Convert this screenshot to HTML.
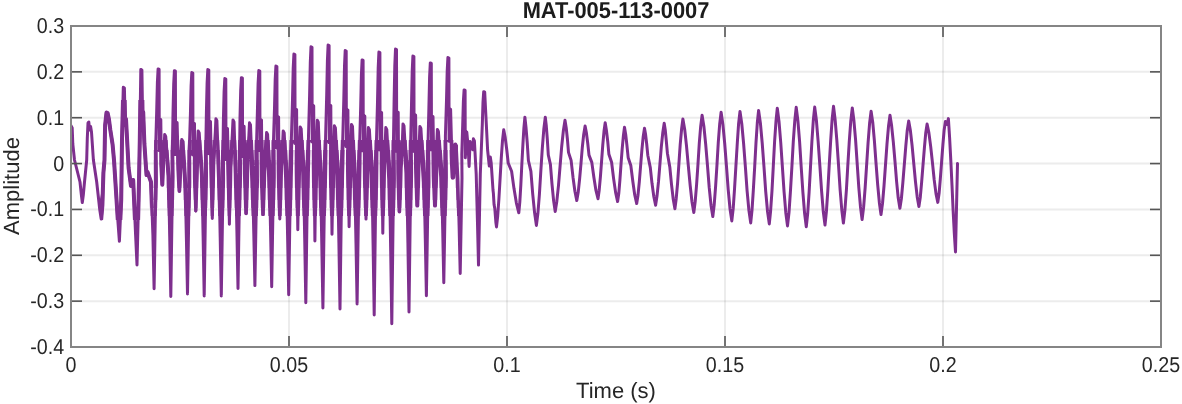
<!DOCTYPE html>
<html><head><meta charset="utf-8"><style>
html,body{margin:0;padding:0;background:#fff;width:1182px;height:404px;overflow:hidden}
svg{display:block}
text{font-family:"Liberation Sans",Arial,sans-serif;text-rendering:geometricPrecision}
</style></head><body>
<svg width="1182" height="404" viewBox="0 0 1182 404">
<rect x="0" y="0" width="1182" height="404" fill="#fff"/>
<g><line x1="289.00" y1="26.0" x2="289.00" y2="347.0" stroke="#262626" stroke-opacity="0.085" stroke-width="2"/>
<line x1="507.00" y1="26.0" x2="507.00" y2="347.0" stroke="#262626" stroke-opacity="0.085" stroke-width="2"/>
<line x1="725.00" y1="26.0" x2="725.00" y2="347.0" stroke="#262626" stroke-opacity="0.085" stroke-width="2"/>
<line x1="943.00" y1="26.0" x2="943.00" y2="347.0" stroke="#262626" stroke-opacity="0.085" stroke-width="2"/>
<line x1="71.0" y1="71.86" x2="1161.0" y2="71.86" stroke="#262626" stroke-opacity="0.085" stroke-width="2"/>
<line x1="71.0" y1="117.71" x2="1161.0" y2="117.71" stroke="#262626" stroke-opacity="0.085" stroke-width="2"/>
<line x1="71.0" y1="163.57" x2="1161.0" y2="163.57" stroke="#262626" stroke-opacity="0.085" stroke-width="2"/>
<line x1="71.0" y1="209.43" x2="1161.0" y2="209.43" stroke="#262626" stroke-opacity="0.085" stroke-width="2"/>
<line x1="71.0" y1="255.29" x2="1161.0" y2="255.29" stroke="#262626" stroke-opacity="0.085" stroke-width="2"/>
<line x1="71.0" y1="301.14" x2="1161.0" y2="301.14" stroke="#262626" stroke-opacity="0.085" stroke-width="2"/></g>
<clipPath id="c"><rect x="71.0" y="26.0" width="1090.0" height="321.0"/></clipPath>
<g clip-path="url(#c)"><defs><path id="wv" d="M71.0,125.6 L72.2,128.0 L72.8,144.0 L74.5,160.0 L77.0,170.0 L80.0,182.0 L81.4,195.0 L82.3,202.5 L83.3,195.0 L84.5,182.0 L86.7,160.0 L87.3,138.0 L88.0,123.0 L88.8,122.0 L89.6,130.0 L90.6,126.5 L91.5,132.0 L93.4,160.0 L96.7,182.0 L99.8,210.0 L101.2,219.0 L102.4,205.0 L103.4,173.0 L104.5,160.0 L105.1,125.3 L106.5,112.5 L107.6,113.0 L108.9,119.0 L110.3,129.7 L112.6,144.6 L114.0,160.0 L115.7,186.7 L117.8,220.0 L119.4,241.3 L121.2,200.0 L122.0,140.0 L123.3,87.3 L124.4,88.0 L125.2,125.0 L126.0,119.0 L128.6,168.0 L131.0,186.0 L133.2,180.0 L135.6,235.0 L137.0,265.0 L138.6,200.0 L139.8,140.0 L140.8,69.4 L141.9,70.0 L142.6,116.0 L143.2,112.0 L144.4,144.0 L146.5,175.0 L147.5,172.0 L151.0,182.0 L152.9,235.0 L154.1,288.7 L155.9,181.0 L155.7,145.8 L156.7,110.7 L157.4,82.1 L158.1,68.9 L159.1,69.4 L159.3,150.2 L160.8,119.5 L161.3,164.7 L162.3,184.7 L163.3,159.7 L164.1,147.6 L164.7,134.4 L165.7,136.4 L168.5,176.0 L169.7,236.2 L170.8,296.5 L172.6,176.0 L172.4,149.7 L173.0,113.6 L173.7,84.2 L174.4,70.7 L175.4,71.2 L175.6,154.2 L177.1,122.6 L178.4,170.0 L179.4,191.1 L180.4,165.0 L181.2,152.9 L181.8,139.4 L182.8,141.4 L185.2,183.0 L186.4,238.4 L187.5,293.9 L189.3,183.0 L189.3,150.1 L190.4,114.6 L191.1,85.9 L191.8,72.6 L192.8,73.1 L193.0,154.5 L194.5,123.5 L194.9,177.0 L195.8,210.9 L196.8,172.0 L197.6,144.2 L198.2,130.9 L199.2,132.9 L201.9,175.0 L203.1,235.4 L204.2,295.9 L206.0,175.0 L205.8,148.8 L206.4,112.6 L207.1,83.2 L207.8,69.6 L208.8,70.1 L209.0,153.3 L210.5,121.6 L211.3,169.0 L212.3,218.4 L213.3,164.0 L215.3,132.3 L215.9,118.7 L216.9,120.7 L219.0,179.0 L220.2,237.4 L221.3,295.9 L223.1,179.0 L222.9,154.6 L223.4,119.8 L224.1,91.5 L224.8,78.5 L225.8,79.0 L226.0,158.9 L227.5,128.5 L228.4,173.0 L229.4,224.2 L230.4,168.0 L232.4,132.9 L233.0,119.9 L234.0,121.9 L235.7,173.0 L236.9,230.8 L238.0,288.5 L239.8,173.0 L239.6,151.5 L240.0,117.8 L240.7,90.3 L241.4,77.7 L242.4,78.2 L242.6,155.7 L244.1,126.2 L245.1,167.0 L246.1,213.4 L247.1,162.0 L248.9,135.4 L249.5,122.8 L250.5,124.8 L252.6,182.0 L253.8,233.8 L254.9,285.6 L256.7,182.0 L256.5,145.8 L257.4,111.4 L258.1,83.5 L258.8,70.6 L259.8,71.1 L260.0,150.1 L261.5,120.0 L262.0,176.0 L263.0,214.5 L264.0,171.0 L266.0,145.3 L266.6,132.4 L267.6,134.4 L269.4,177.0 L270.6,231.9 L271.7,286.8 L273.5,177.0 L273.4,143.3 L274.5,108.0 L275.2,79.3 L275.9,66.1 L276.9,66.6 L277.1,147.8 L278.6,116.9 L279.0,171.0 L279.8,218.9 L280.8,166.0 L282.6,144.1 L283.2,130.9 L284.2,132.9 L286.4,178.0 L287.6,236.3 L288.7,294.7 L290.5,178.0 L291.4,138.2 L292.5,99.7 L293.2,68.4 L293.9,54.0 L294.9,54.5 L295.1,143.1 L296.6,109.4 L297.0,172.0 L297.8,229.8 L298.8,167.0 L299.6,141.3 L300.2,126.9 L301.2,128.9 L303.5,174.0 L304.7,238.3 L305.8,302.7 L307.6,174.0 L308.5,136.4 L309.6,95.4 L310.3,62.2 L311.0,46.8 L312.0,47.3 L312.2,141.5 L313.7,105.7 L314.1,168.0 L314.9,240.9 L315.9,163.0 L316.7,135.6 L317.3,120.2 L318.3,122.2 L320.6,181.0 L321.8,244.5 L322.9,308.0 L324.7,181.0 L325.6,137.1 L326.7,95.0 L327.4,60.8 L328.1,45.0 L329.1,45.5 L329.3,142.3 L330.8,105.5 L331.2,175.0 L332.0,234.2 L333.0,170.0 L333.8,141.6 L334.4,125.8 L335.4,127.8 L337.7,176.0 L338.9,242.5 L340.0,309.1 L341.8,176.0 L342.7,141.0 L343.8,99.6 L344.5,66.0 L345.2,50.5 L346.2,51.0 L346.4,146.2 L347.9,110.0 L348.3,170.0 L349.1,226.8 L350.1,165.0 L350.9,139.9 L351.5,124.4 L352.5,126.4 L354.8,183.0 L356.0,243.4 L357.1,303.9 L358.9,183.0 L359.6,145.3 L360.7,106.3 L361.4,74.5 L362.1,59.9 L363.1,60.4 L363.3,150.2 L364.8,116.0 L365.2,177.0 L366.0,219.1 L367.0,172.0 L367.8,142.2 L368.4,127.6 L369.4,129.6 L371.9,175.0 L373.1,245.0 L374.2,315.0 L376.0,175.0 L376.4,144.1 L377.5,102.0 L378.2,67.8 L378.9,52.0 L379.9,52.5 L380.1,149.3 L381.6,112.5 L382.0,169.0 L382.8,233.2 L383.8,164.0 L385.2,143.4 L385.8,127.6 L386.8,129.6 L389.5,179.0 L390.7,251.3 L391.8,323.7 L393.6,179.0 L393.4,145.2 L394.1,101.3 L394.8,65.6 L395.5,49.1 L396.5,49.6 L396.7,150.7 L398.2,112.3 L398.6,173.0 L399.4,211.6 L400.4,168.0 L402.4,140.4 L403.0,123.9 L404.0,125.9 L406.7,173.0 L407.9,242.5 L409.0,312.1 L410.8,173.0 L410.6,145.6 L411.5,104.7 L412.2,71.4 L412.9,56.0 L413.9,56.5 L414.1,150.8 L415.6,114.9 L416.3,167.0 L417.3,205.6 L418.3,162.0 L419.3,141.8 L419.9,126.4 L420.9,128.4 L424.1,182.0 L425.3,238.9 L426.4,295.8 L428.2,182.0 L428.0,144.4 L428.9,107.2 L429.6,76.9 L430.3,62.9 L431.3,63.4 L431.5,149.1 L433.0,116.5 L434.0,176.0 L435.0,205.6 L436.0,171.0 L436.8,143.4 L437.4,129.4 L438.4,131.4 L441.5,177.0 L442.7,229.8 L443.8,282.7 L445.6,177.0 L445.4,136.3 L446.5,100.3 L447.2,71.0 L447.9,57.5 L448.9,58.0 L449.1,140.8 L450.6,109.3 L451.9,157.4 L452.9,177.4 L453.9,152.4 L454.7,157.9 L455.3,144.4 L456.3,146.4 L457.9,178.0 L459.1,225.8 L460.2,273.5 L462.0,178.0 L461.8,154.2 L462.7,124.8 L463.4,100.9 L464.1,89.9 L465.1,90.4 L465.3,157.8 L466.8,132.1 L468.1,146.5 L469.1,166.5 L470.1,141.5 L472.8,149.8 L473.4,138.8 L474.4,140.8 L476.2,174.0 L477.4,219.5 L478.5,265.1 L480.3,174.0 L481.2,152.4 L482.3,124.6 L483.0,102.1 L483.7,91.7 L484.7,92.2 L485.6,110.0 L487.6,150.0 L489.3,166.0 L490.3,157.0 L491.2,163.0 L493.0,190.0 L493.4,193.4 L493.7,198.6 L494.1,204.8 L494.8,208.4 L495.4,216.1 L495.9,222.6 L496.5,226.9 L497.7,216.0 L498.9,199.0 L500.1,178.4 L501.3,157.7 L502.5,140.7 L503.7,129.8 L505.2,137.6 L506.7,149.2 L508.2,163.0 L511.6,171.3 L514.0,188.6 L516.4,203.1 L518.8,212.8 L519.8,202.1 L520.8,185.3 L521.8,165.0 L522.9,144.7 L523.9,127.9 L524.9,117.2 L526.0,127.3 L527.2,142.4 L528.4,160.5 L530.9,171.3 L532.7,193.8 L534.6,212.8 L536.4,225.4 L537.9,213.3 L539.4,194.3 L540.8,171.3 L542.3,148.3 L543.8,129.3 L545.3,117.2 L546.3,126.0 L547.3,139.2 L548.3,155.0 L550.4,164.4 L552.0,184.1 L553.6,200.6 L555.2,211.6 L556.8,201.4 L558.5,185.3 L560.1,165.9 L561.7,146.5 L563.4,130.4 L565.0,120.2 L566.2,127.7 L567.4,139.0 L568.5,152.4 L571.1,160.4 L573.0,177.2 L574.9,191.2 L576.8,200.6 L578.2,192.3 L579.6,179.2 L581.0,163.3 L582.3,147.5 L583.7,134.4 L585.1,126.1 L586.4,132.9 L587.7,143.0 L589.0,155.1 L591.8,162.4 L593.9,177.5 L595.9,190.2 L598.0,198.7 L599.2,190.2 L600.4,176.9 L601.6,160.8 L602.8,144.6 L604.0,131.3 L605.2,122.8 L606.4,130.2 L607.7,141.2 L608.9,154.3 L611.6,162.2 L613.6,178.6 L615.6,192.4 L617.6,201.6 L618.8,193.3 L619.9,180.2 L621.0,164.4 L622.2,148.7 L623.4,135.6 L624.5,127.3 L625.7,134.4 L626.9,145.1 L628.2,157.8 L630.8,165.4 L632.8,181.3 L634.7,194.7 L636.7,203.6 L638.0,195.2 L639.3,182.0 L640.6,165.9 L641.9,149.9 L643.2,136.7 L644.5,128.3 L645.6,134.6 L646.7,144.0 L647.8,155.2 L650.3,167.6 L652.0,183.3 L653.8,196.5 L655.6,205.3 L657.0,196.1 L658.5,181.7 L659.9,164.3 L661.3,146.9 L662.8,132.5 L664.2,123.3 L665.3,130.3 L666.3,140.8 L667.4,153.2 L669.8,166.9 L671.5,184.4 L673.2,199.0 L674.9,208.8 L676.2,198.7 L677.6,183.0 L678.9,163.8 L680.2,144.7 L681.6,129.0 L682.9,118.9 L684.7,129.4 L686.5,145.8 L688.3,165.7 L690.2,185.6 L692.0,202.0 L693.8,212.5 L695.2,201.6 L696.6,184.5 L698.0,163.8 L699.3,143.2 L700.7,126.1 L702.1,115.2 L703.9,126.5 L705.7,144.3 L707.5,165.8 L709.2,187.4 L711.0,205.2 L712.8,216.5 L714.2,204.8 L715.6,186.5 L717.0,164.3 L718.3,142.2 L719.7,123.9 L721.1,112.2 L722.9,124.4 L724.7,143.5 L726.5,166.6 L728.2,189.6 L730.0,208.7 L731.8,220.9 L733.2,208.7 L734.5,189.4 L735.9,166.2 L737.3,143.0 L738.6,123.7 L740.0,111.5 L741.8,124.0 L743.6,143.5 L745.4,167.2 L747.1,190.9 L748.9,210.4 L750.7,222.9 L752.0,210.3 L753.3,190.6 L754.7,166.7 L756.0,142.7 L757.3,123.0 L758.6,110.4 L760.4,123.1 L762.2,143.0 L764.0,167.2 L765.7,191.3 L767.5,211.2 L769.3,223.9 L770.6,211.0 L772.0,190.6 L773.3,166.1 L774.6,141.5 L776.0,121.1 L777.3,108.2 L779.0,121.4 L780.7,142.0 L782.4,167.1 L784.1,192.1 L785.8,212.7 L787.5,225.9 L789.0,212.6 L790.4,191.8 L791.9,166.6 L793.3,141.4 L794.8,120.6 L796.2,107.3 L797.9,120.7 L799.6,141.6 L801.2,167.0 L802.9,192.4 L804.6,213.3 L806.3,226.7 L807.7,213.3 L809.1,192.3 L810.5,166.9 L811.9,141.5 L813.3,120.5 L814.7,107.1 L816.4,120.3 L818.1,141.0 L819.9,166.1 L821.6,191.1 L823.3,211.8 L825.0,225.0 L826.4,211.7 L827.8,190.9 L829.2,165.7 L830.7,140.4 L832.1,119.6 L833.5,106.3 L835.1,119.4 L836.8,139.9 L838.5,164.7 L840.1,189.5 L841.8,210.0 L843.4,223.1 L844.9,210.2 L846.4,190.0 L847.8,165.6 L849.3,141.1 L850.8,120.9 L852.3,108.0 L853.9,120.5 L855.6,140.1 L857.2,163.8 L858.8,187.4 L860.5,207.0 L862.1,219.5 L863.6,207.4 L865.1,188.4 L866.6,165.3 L868.1,142.3 L869.6,123.3 L871.1,111.2 L872.8,122.8 L874.4,140.9 L876.0,162.9 L877.7,184.9 L879.4,203.0 L881.0,214.6 L882.5,203.5 L884.0,186.0 L885.5,164.9 L887.0,143.8 L888.5,126.3 L890.0,115.2 L891.6,125.6 L893.3,141.9 L895.0,161.7 L896.6,181.5 L898.2,197.8 L899.9,208.2 L901.4,198.5 L902.8,183.2 L904.3,164.7 L905.8,146.1 L907.2,130.8 L908.7,121.1 L910.4,130.6 L912.1,145.6 L913.8,163.8 L915.5,181.9 L917.2,196.9 L918.9,206.4 L920.3,197.2 L921.6,182.7 L923.0,165.2 L924.4,147.8 L925.7,133.3 L927.1,124.1 L928.9,132.9 L930.7,146.6 L932.5,163.2 L934.2,179.9 L936.0,193.6 L937.8,202.4 L939.1,193.3 L940.3,179.1 L941.6,161.9 L942.9,144.7 L944.1,130.5 L945.4,121.4 L946.3,123.5 L947.2,124.5 L948.4,118.6 L949.6,137.5 L950.8,160.3 L952.0,185.3 L953.1,210.3 L954.3,233.1 L955.5,252.0 L957.5,163.6"/></defs><g fill="#7e2f8e"></g><use href="#wv" fill="none" stroke="#7e2f8e" stroke-width="3" stroke-linejoin="round" stroke-linecap="round"/></g>
<clipPath id="b0_0"><rect x="150" y="140" width="90" height="10"/></clipPath>
<use href="#wv" clip-path="url(#b0_0)" fill="none" stroke="#7e2f8e" stroke-linejoin="round" stroke-width="3.2"/>
<clipPath id="b0_1"><rect x="150" y="150" width="90" height="10"/></clipPath>
<use href="#wv" clip-path="url(#b0_1)" fill="none" stroke="#7e2f8e" stroke-linejoin="round" stroke-width="3.8"/>
<clipPath id="b0_2"><rect x="150" y="160" width="90" height="28"/></clipPath>
<use href="#wv" clip-path="url(#b0_2)" fill="none" stroke="#7e2f8e" stroke-linejoin="round" stroke-width="4.0"/>
<clipPath id="b0_3"><rect x="150" y="188" width="90" height="12"/></clipPath>
<use href="#wv" clip-path="url(#b0_3)" fill="none" stroke="#7e2f8e" stroke-linejoin="round" stroke-width="3.7"/>
<clipPath id="b0_4"><rect x="150" y="200" width="90" height="8"/></clipPath>
<use href="#wv" clip-path="url(#b0_4)" fill="none" stroke="#7e2f8e" stroke-linejoin="round" stroke-width="3.4"/>
<clipPath id="b0_5"><rect x="150" y="208" width="90" height="8"/></clipPath>
<use href="#wv" clip-path="url(#b0_5)" fill="none" stroke="#7e2f8e" stroke-linejoin="round" stroke-width="3.0"/>
<clipPath id="b1_0"><rect x="240" y="140" width="218" height="10"/></clipPath>
<use href="#wv" clip-path="url(#b1_0)" fill="none" stroke="#7e2f8e" stroke-linejoin="round" stroke-width="3.8"/>
<clipPath id="b1_1"><rect x="240" y="150" width="218" height="10"/></clipPath>
<use href="#wv" clip-path="url(#b1_1)" fill="none" stroke="#7e2f8e" stroke-linejoin="round" stroke-width="4.4"/>
<clipPath id="b1_2"><rect x="240" y="160" width="218" height="28"/></clipPath>
<use href="#wv" clip-path="url(#b1_2)" fill="none" stroke="#7e2f8e" stroke-linejoin="round" stroke-width="4.6"/>
<clipPath id="b1_3"><rect x="240" y="188" width="218" height="12"/></clipPath>
<use href="#wv" clip-path="url(#b1_3)" fill="none" stroke="#7e2f8e" stroke-linejoin="round" stroke-width="4.3"/>
<clipPath id="b1_4"><rect x="240" y="200" width="218" height="8"/></clipPath>
<use href="#wv" clip-path="url(#b1_4)" fill="none" stroke="#7e2f8e" stroke-linejoin="round" stroke-width="4.0"/>
<clipPath id="b1_5"><rect x="240" y="208" width="218" height="8"/></clipPath>
<use href="#wv" clip-path="url(#b1_5)" fill="none" stroke="#7e2f8e" stroke-linejoin="round" stroke-width="3.6"/>
<clipPath id="be"><rect x="100" y="100" width="50" height="120"/></clipPath>
<use href="#wv" clip-path="url(#be)" fill="none" stroke="#7e2f8e" stroke-linejoin="round" stroke-width="4"/>
<g stroke="#555555" stroke-width="1.6"><line x1="289.00" y1="26.0" x2="289.00" y2="37.0" />
<line x1="289.00" y1="347.0" x2="289.00" y2="336.0" />
<line x1="507.00" y1="26.0" x2="507.00" y2="37.0" />
<line x1="507.00" y1="347.0" x2="507.00" y2="336.0" />
<line x1="725.00" y1="26.0" x2="725.00" y2="37.0" />
<line x1="725.00" y1="347.0" x2="725.00" y2="336.0" />
<line x1="943.00" y1="26.0" x2="943.00" y2="37.0" />
<line x1="943.00" y1="347.0" x2="943.00" y2="336.0" />
<line x1="71.0" y1="71.86" x2="82.0" y2="71.86" />
<line x1="1161.0" y1="71.86" x2="1150.0" y2="71.86" />
<line x1="71.0" y1="117.71" x2="82.0" y2="117.71" />
<line x1="1161.0" y1="117.71" x2="1150.0" y2="117.71" />
<line x1="71.0" y1="163.57" x2="82.0" y2="163.57" />
<line x1="1161.0" y1="163.57" x2="1150.0" y2="163.57" />
<line x1="71.0" y1="209.43" x2="82.0" y2="209.43" />
<line x1="1161.0" y1="209.43" x2="1150.0" y2="209.43" />
<line x1="71.0" y1="255.29" x2="82.0" y2="255.29" />
<line x1="1161.0" y1="255.29" x2="1150.0" y2="255.29" />
<line x1="71.0" y1="301.14" x2="82.0" y2="301.14" />
<line x1="1161.0" y1="301.14" x2="1150.0" y2="301.14" /></g>
<rect x="71.0" y="26.0" width="1090.0" height="321.0" fill="none" stroke="#858585" stroke-width="2"/>
<g font-size="21.4" fill="#262626"><text transform="translate(71.00,372) scale(0.92,1)" text-anchor="middle">0</text>
<text transform="translate(289.00,372) scale(0.92,1)" text-anchor="middle">0.05</text>
<text transform="translate(507.00,372) scale(0.92,1)" text-anchor="middle">0.1</text>
<text transform="translate(725.00,372) scale(0.92,1)" text-anchor="middle">0.15</text>
<text transform="translate(943.00,372) scale(0.92,1)" text-anchor="middle">0.2</text>
<text transform="translate(1161.00,372) scale(0.92,1)" text-anchor="middle">0.25</text>
<text transform="translate(64.1,33.00) scale(0.92,1)" text-anchor="end">0.3</text>
<text transform="translate(64.1,78.86) scale(0.92,1)" text-anchor="end">0.2</text>
<text transform="translate(64.1,124.71) scale(0.92,1)" text-anchor="end">0.1</text>
<text transform="translate(64.1,170.57) scale(0.92,1)" text-anchor="end">0</text>
<text transform="translate(64.1,216.43) scale(0.92,1)" text-anchor="end">-0.1</text>
<text transform="translate(64.1,262.29) scale(0.92,1)" text-anchor="end">-0.2</text>
<text transform="translate(64.1,308.14) scale(0.92,1)" text-anchor="end">-0.3</text>
<text transform="translate(64.1,354.00) scale(0.92,1)" text-anchor="end">-0.4</text></g>
<text x="616" y="398" font-size="22" fill="#262626" text-anchor="middle">Time (s)</text>
<text transform="translate(19,186) rotate(-90)" font-size="22" fill="#262626" text-anchor="middle">Amplitude</text>
<text transform="translate(616,18.3) scale(0.955,1)" font-size="22.9" font-weight="bold" fill="#1c1c1c" text-anchor="middle">MAT-005-113-0007</text>
</svg>
</body></html>
